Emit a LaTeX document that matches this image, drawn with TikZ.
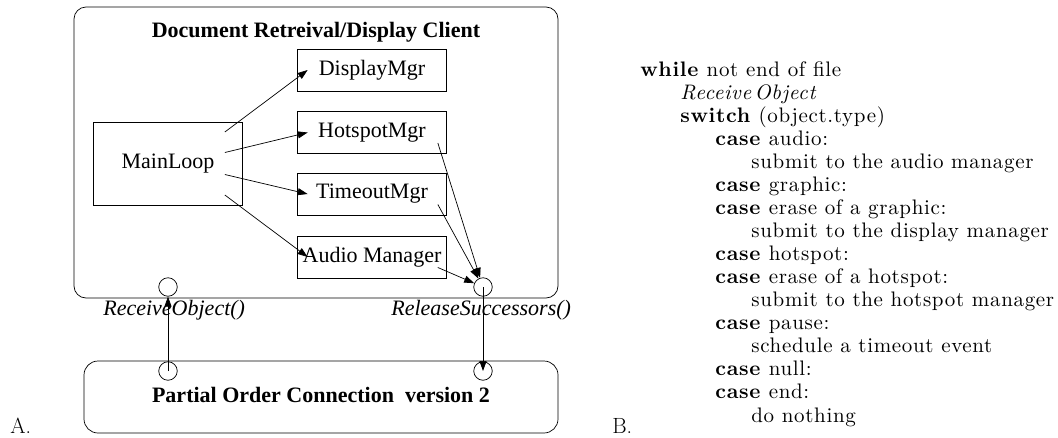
\documentclass[tikz,border=0pt]{standalone}
\usepackage{fontspec}
\newfontfamily\timesfont{Liberation Serif}
\newfontfamily\codefont{lmroman10-regular.otf}[BoldFont=lmroman10-bold.otf,ItalicFont=lmroman10-italic.otf,LetterSpace=3.2]
\usetikzlibrary{arrows.meta}
\begin{document}
\begin{tikzpicture}[x=1pt,y=-1pt,line width=0.7pt,
    arr/.style={-{Triangle[length=10pt,width=7pt]}},
    mgr/.style={draw,minimum width=149pt,minimum height=42pt,inner sep=0pt,font=\timesfont\fontsize{22}{26}\selectfont},
    port/.style={draw,circle,minimum size=18.5pt,inner sep=0pt},
    lbl/.style={anchor=base,inner sep=0pt,font=\timesfont\fontsize{22}{26}\selectfont},
    codeline/.style={anchor=base west,inner sep=0pt,font=\codefont\fontsize{21}{22}\selectfont}]
\useasboundingbox (0,0) rectangle (1058,437);
% A. client and connection
\draw[rounded corners=12pt] (74,7) rectangle (558,298);
\node[lbl] (title) at (316,37) {\bfseries Document Retreival/Display Client};
\node[mgr] (disp) at (372,70) {DisplayMgr};
\node[mgr] (hot) at (372,132.5) {HotspotMgr};
\node[mgr] (time) at (372,194) {TimeoutMgr};
\node[mgr] (audio) at (372,257) {Audio Manager};
\node[mgr,minimum height=83pt] (main) at (168,163.5) {MainLoop};
\node[port] (uc) at (168,287) {};
\node[port] (rc) at (483,287) {};
\draw[rounded corners=14pt] (84,361) rectangle (558,433);
\node[lbl] (poc) at (321,402) {\bfseries Partial Order Connection\ \ version 2};
\node[port] (lc) at (168,371) {};
\node[port] (lrc) at (483,371) {};
\node[lbl,anchor=base west] (recv) at (103,315) {\itshape ReceiveObject()};
\node[lbl,anchor=base west] (rel) at (391,315) {\itshape ReleaseSuccessors()};
\draw[arr] ([xshift=-18pt,yshift=31.5pt]main.east) -- ([xshift=10.5pt]disp.west);
\draw[arr] ([xshift=-18pt,yshift=11pt]main.east) -- ([xshift=10.5pt]hot.west);
\draw[arr] ([xshift=-18pt,yshift=-11pt]main.east) -- ([xshift=10.5pt]time.west);
\draw[arr] ([xshift=-18pt,yshift=-31.5pt]main.east) -- ([xshift=10.5pt]audio.west);
\draw[arr] ([xshift=-9pt,yshift=-10.5pt]hot.east) -- (rc);
\draw[arr] ([xshift=-9pt,yshift=-10.5pt]time.east) -- (rc);
\draw[arr] ([xshift=-9pt,yshift=-10.5pt]audio.east) -- (rc);
\draw[arr] (lc.center) -- (uc);
\draw[arr] (rc.center) -- (lrc.center);
\node[anchor=base west,inner sep=0pt,font=\fontsize{22}{22}\selectfont] (labelA) at (10,433) {A.};
% B. main loop pseudo code
\foreach \xx/\txt [count=\i] in {
    640/{\textbf{while} not end of file},
    680/{\textit{Receive\,Object}},
    680/{\textbf{switch} (object.type)},
    715/{\textbf{case} audio:},
    751/{submit to the audio manager},
    715/{\textbf{case} graphic:},
    715/{\textbf{case} erase of a graphic:},
    751/{submit to the display manager},
    715/{\textbf{case} hotspot:},
    715/{\textbf{case} erase of a hotspot:},
    751/{submit to the hotspot manager},
    715/{\textbf{case} pause:},
    751/{schedule a timeout event},
    715/{\textbf{case} null:},
    715/{\textbf{case} end:},
    751/{do nothing}}
  \node[codeline] (line\i) at (\xx,{76+23.07*(\i-1)}) {\txt};
\node[anchor=base west,inner sep=0pt,font=\fontsize{22}{22}\selectfont] (labelB) at (612,433) {B.};
\end{tikzpicture}
\end{document}
